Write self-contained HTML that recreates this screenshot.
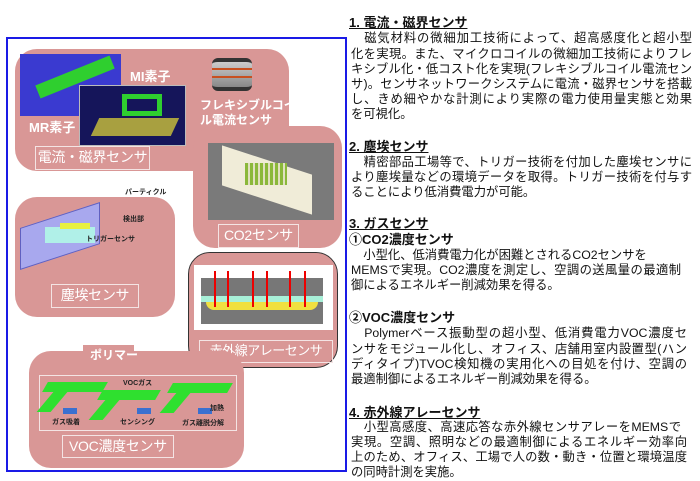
<!DOCTYPE html>
<html><head><meta charset="utf-8"><style>
*{margin:0;padding:0;box-sizing:border-box}
body{width:700px;height:481px;background:#fff;position:relative;overflow:hidden;font-family:"Liberation Sans","Noto Sans CJK JP",sans-serif}
.a{position:absolute}
.p{position:absolute;background:#d99796;border-radius:22px}
.lb{position:absolute;border:1.5px solid #f4e4e4;color:#fff;font-size:14px;text-align:center;white-space:nowrap;letter-spacing:-0.3px}
.w{color:#fff;font-weight:bold;font-size:12px;white-space:nowrap;position:absolute}
.t{position:absolute;left:351px;font-size:12.3px;white-space:nowrap;color:#111;line-height:15px}
.j{width:341px;text-align:justify;text-align-last:justify;white-space:normal;overflow:hidden;height:15px}
.h{position:absolute;left:349px;font-size:13px;line-height:15px;font-weight:bold;text-decoration:underline;white-space:nowrap;color:#111}
.s{position:absolute;left:349px;font-size:13px;line-height:15px;font-weight:bold;white-space:nowrap;color:#111}
</style></head><body>
<div class="a" style="left:6px;top:37px;width:341px;height:435px;border:2px solid #1a1ae6"></div>

<div class="p" style="left:15px;top:49px;width:274px;height:122px"></div>
<div class="a" style="left:20px;top:54px;width:101px;height:62px;background:#3a3ad0"></div>
<div class="a" style="left:35px;top:70px;width:80px;height:14px;background:#2fcf2f;transform:rotate(-22deg)"></div>
<div class="a" style="left:79px;top:85px;width:107px;height:61px;background:#15155a;border:1px solid #bbb"></div>
<div class="a" style="left:95px;top:118px;width:80px;height:18px;background:#a8a040;transform:skewX(-25deg)"></div>
<div class="a" style="left:122px;top:94px;width:40px;height:22px;border:5px solid #2fcf2f"></div>
<div class="w" style="left:130px;top:66px;font-size:13px">MI素子</div>
<div class="w" style="left:29px;top:117px;font-size:13px">MR素子</div>
<div class="a" style="left:212px;top:58px;width:40px;height:33px;border-radius:6px;background:linear-gradient(#ccc,#888);border-top:4px solid #333;border-bottom:4px solid #333"></div>
<div class="a" style="left:212px;top:68px;width:40px;height:10px;border-top:2px solid #c85020;border-bottom:2px solid #c85020"></div>
<div class="w" style="left:200px;top:96px">フレキシブルコイ</div>
<div class="w" style="left:200px;top:111px">ル電流センサ</div>
<div class="lb" style="left:35px;top:146px;width:115px;height:24px;line-height:21px">電流・磁界センサ</div>

<div class="p" style="left:193px;top:126px;width:149px;height:122px"></div>
<div class="a" style="left:208px;top:143px;width:126px;height:77px;background:#7a7a7a"></div>
<div class="a" style="left:222px;top:160px;width:90px;height:40px;background:#f0ecd8;transform:skewY(18deg)"></div>
<div class="a" style="left:245px;top:163px;width:42px;height:22px;background:repeating-linear-gradient(90deg,#8bb83a 0 3px,#e0e0c0 3px 5px)"></div>
<div class="lb" style="left:218px;top:224px;width:81px;height:24px;line-height:21px">CO2センサ</div>

<div class="p" style="left:15px;top:197px;width:160px;height:120px"></div>
<div class="a" style="left:20px;top:215px;width:80px;height:42px;background:#a8a8ee;border:1px solid #6060c0;transform:skewY(-18deg)"></div>
<div class="a" style="left:45px;top:227px;width:50px;height:16px;background:#b0f0e8"></div>
<div class="a" style="left:60px;top:223px;width:30px;height:6px;background:#e8f040"></div>
<div class="a" style="left:125px;top:187px;font-size:7px;font-weight:bold;color:#222;white-space:nowrap">パーティクル</div>
<div class="a" style="left:123px;top:214px;font-size:7px;font-weight:bold;color:#222">検出部</div>
<div class="a" style="left:86px;top:234px;font-size:7px;font-weight:bold;color:#222;white-space:nowrap">トリガーセンサ</div>
<div class="lb" style="left:51px;top:284px;width:88px;height:24px;line-height:21px">塵埃センサ</div>

<div class="p" style="left:188px;top:252px;width:150px;height:116px;border:1.5px solid #333"></div>
<div class="a" style="left:194px;top:265px;width:139px;height:65px;background:#fff"></div>
<div class="a" style="left:201px;top:278px;width:122px;height:46px;background:#777"></div>
<div class="a" style="left:201px;top:296px;width:122px;height:6px;background:#a8f0d8"></div>
<div class="a" style="left:206px;top:302px;width:112px;height:8px;background:#f0e040;border-radius:0 0 20px 20px"></div>
<div class="a" style="left:214px;top:271px;width:2px;height:36px;background:#e00"></div>
<div class="a" style="left:227px;top:271px;width:2px;height:36px;background:#e00"></div>
<div class="a" style="left:252px;top:271px;width:2px;height:36px;background:#e00"></div>
<div class="a" style="left:266px;top:271px;width:2px;height:36px;background:#e00"></div>
<div class="a" style="left:289px;top:271px;width:2px;height:36px;background:#e00"></div>
<div class="a" style="left:304px;top:271px;width:2px;height:36px;background:#e00"></div>
<div class="lb" style="left:199px;top:340px;width:134px;height:23px;line-height:20px;font-size:13px;letter-spacing:-0.5px">赤外線アレーセンサ</div>

<div class="p" style="left:29px;top:351px;width:215px;height:117px"></div>
<div class="a" style="left:83px;top:345px;width:51px;height:12px;background:#d99796"></div>
<div class="w" style="left:90px;top:346px;font-size:12px">ポリマー</div>
<div class="a" style="left:39px;top:375px;width:198px;height:56px;border:1.5px solid #f4e4e4"></div>
<div class="a" style="left:45px;top:382px;width:60px;height:10px;background:#2fe02f;transform:skewX(-30deg)"></div>
<div class="a" style="left:45px;top:392px;width:14px;height:20px;background:#2fe02f;transform:skewX(-40deg)"></div>
<div class="a" style="left:100px;top:390px;width:58px;height:10px;background:#2fe02f;transform:skewX(-30deg)"></div>
<div class="a" style="left:97px;top:400px;width:14px;height:20px;background:#2fe02f;transform:skewX(-40deg)"></div>
<div class="a" style="left:170px;top:383px;width:60px;height:10px;background:#2fe02f;transform:skewX(-30deg)"></div>
<div class="a" style="left:168px;top:393px;width:14px;height:20px;background:#2fe02f;transform:skewX(-40deg)"></div>
<div class="a" style="left:63px;top:408px;width:14px;height:6px;background:#3a70d0"></div>
<div class="a" style="left:137px;top:408px;width:14px;height:6px;background:#3a70d0"></div>
<div class="a" style="left:198px;top:408px;width:14px;height:6px;background:#3a70d0"></div>
<div class="a" style="left:52px;top:417px;font-size:7px;font-weight:bold;color:#222">ガス吸着</div>
<div class="a" style="left:120px;top:417px;font-size:7px;font-weight:bold;color:#222">センシング</div>
<div class="a" style="left:182px;top:418px;font-size:7px;font-weight:bold;color:#222">ガス離脱分解</div>
<div class="a" style="left:123px;top:378px;font-size:7px;font-weight:bold;color:#222">VOCガス</div>
<div class="a" style="left:210px;top:403px;font-size:7px;font-weight:bold;color:#222">加熱</div>
<div class="lb" style="left:62px;top:435px;width:112px;height:23px;line-height:20px">VOC濃度センサ</div>

<div class="h" style="top:15px">1. 電流・磁界センサ</div>
<div class="t j" style="top:31px">　磁気材料の微細加工技術によって、超高感度化と超小型</div>
<div class="t j" style="top:47px">化を実現。また、マイクロコイルの微細加工技術によりフレ</div>
<div class="t j" style="top:62px">キシブル化・低コスト化を実現(フレキシブルコイル電流セン</div>
<div class="t j" style="top:77px">サ)。センサネットワークシステムに電流・磁界センサを搭載</div>
<div class="t j" style="top:92px">し、きめ細やかな計測により実際の電力使用量実態と効果</div>
<div class="t" style="top:107px">を可視化。</div>
<div class="h" style="top:139px">2. 塵埃センサ</div>
<div class="t j" style="top:155px">　精密部品工場等で、トリガー技術を付加した塵埃センサに</div>
<div class="t j" style="top:170px">より塵埃量などの環境データを取得。トリガー技術を付与す</div>
<div class="t" style="top:185px">ることにより低消費電力が可能。</div>
<div class="h" style="top:216px">3. ガスセンサ</div>
<div class="s" style="top:232px">①CO2濃度センサ</div>
<div class="t" style="top:248px">　小型化、低消費電力化が困難とされるCO2センサを</div>
<div class="t j" style="top:263px;width:330px">MEMSで実現。CO2濃度を測定し、空調の送風量の最適制</div>
<div class="t" style="top:278px">御によるエネルギー削減効果を得る。</div>
<div class="s" style="top:310px">②VOC濃度センサ</div>
<div class="t j" style="top:326px;width:336px">　Polymerベース振動型の超小型、低消費電力VOC濃度セ</div>
<div class="t j" style="top:342px;width:336px">ンサをモジュール化し、オフィス、店舗用室内設置型(ハン</div>
<div class="t j" style="top:357px;width:336px">ディタイプ)TVOC検知機の実用化への目処を付け、空調の</div>
<div class="t" style="top:372px">最適制御によるエネルギー削減効果を得る。</div>
<div class="h" style="top:405px">4. 赤外線アレーセンサ</div>
<div class="t j" style="top:420px;width:330px">　小型高感度、高速応答な赤外線センサアレーをMEMSで</div>
<div class="t j" style="top:435px;width:336px">実現。空調、照明などの最適制御によるエネルギー効率向</div>
<div class="t j" style="top:450px;width:336px">上のため、オフィス、工場で人の数・動き・位置と環境温度</div>
<div class="t" style="top:465px">の同時計測を実施。</div>
</body></html>
